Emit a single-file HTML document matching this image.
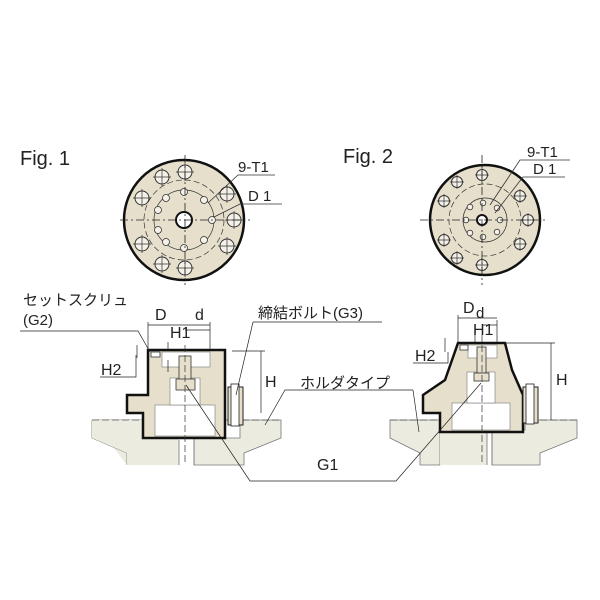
<!DOCTYPE html><html><head><meta charset="utf-8"><style>body{margin:0;background:#fff}svg{display:block}text{font-family:"Liberation Sans","Noto Sans CJK JP",sans-serif;fill:#222}</style></head><body>
<svg width="600" height="600" viewBox="0 0 600 600" xmlns="http://www.w3.org/2000/svg">
<defs><g id="bh"><circle r="7" fill="#f4f1e8" stroke="#333" stroke-width="1"/><path d="M-9 0H9M0 -9V9" stroke="#333" stroke-width="0.7"/></g>
<g id="bh2"><circle r="5.5" fill="#f4f1e8" stroke="#333" stroke-width="1"/><path d="M-7 0H7M0 -7V7" stroke="#333" stroke-width="0.7"/></g>
<g id="sh"><circle r="3.5" fill="#f4f1e8" stroke="#333" stroke-width="0.8"/></g>
<g id="sh2"><circle r="2.8" fill="#f4f1e8" stroke="#333" stroke-width="0.8"/></g></defs>
<text x="20" y="165" font-size="20">Fig. 1</text>
<text x="343" y="163" font-size="20">Fig. 2</text>
<!-- Fig1 plan -->
<circle cx="184" cy="220" r="60" fill="#e6dfcb" stroke="#111" stroke-width="2.5"/>
<circle cx="184" cy="220" r="40" fill="none" stroke="#333" stroke-width="0.7" stroke-dasharray="6 3"/>
<circle cx="184" cy="220" r="30" fill="none" stroke="#333" stroke-width="0.7"/>
<use href="#bh" x="185" y="172"/><use href="#bh" x="185" y="268"/><use href="#bh" x="234" y="220"/>
<use href="#bh" x="227" y="194"/><use href="#bh" x="227" y="246"/><use href="#bh" x="162" y="177"/><use href="#bh" x="142" y="198"/><use href="#bh" x="142" y="244"/><use href="#bh" x="162" y="264"/>
<use href="#sh" x="184" y="192"/><use href="#sh" x="184" y="248"/><use href="#sh" x="212" y="220"/><use href="#sh" x="166" y="198"/><use href="#sh" x="158" y="210"/><use href="#sh" x="158" y="230"/><use href="#sh" x="166" y="242"/><use href="#sh" x="204" y="200"/><use href="#sh" x="204" y="240"/>
<circle cx="184" cy="220" r="8" fill="#fff" stroke="#111" stroke-width="2"/>
<path d="M120 220H250M185 155V285" stroke="#222" stroke-width="0.8" stroke-dasharray="8 3 2 3"/>
<path d="M208 203L238 175H275M214 217L240 204H282" stroke="#333" stroke-width="0.8" fill="none"/>
<text x="238" y="172" font-size="15">9-T1</text><text x="248" y="201" font-size="15">D 1</text>
<!-- Fig2 plan -->
<circle cx="485" cy="220" r="55" fill="#e6dfcb" stroke="#111" stroke-width="2.5"/>
<circle cx="485" cy="220" r="36" fill="none" stroke="#333" stroke-width="0.7" stroke-dasharray="6 3"/>
<circle cx="485" cy="220" r="22" fill="none" stroke="#333" stroke-width="0.7"/>
<use href="#bh2" x="482" y="175"/><use href="#bh2" x="482" y="265"/><use href="#bh2" x="528" y="220"/><use href="#bh2" x="520" y="196"/><use href="#bh2" x="520" y="244"/><use href="#bh2" x="457" y="182"/><use href="#bh2" x="444" y="201"/><use href="#bh2" x="444" y="240"/><use href="#bh2" x="457" y="258"/>
<use href="#sh2" x="483" y="203"/><use href="#sh2" x="483" y="237"/><use href="#sh2" x="500" y="220"/><use href="#sh2" x="470" y="207"/><use href="#sh2" x="466" y="220"/><use href="#sh2" x="470" y="233"/><use href="#sh2" x="497" y="208"/><use href="#sh2" x="497" y="232"/>
<circle cx="482" cy="220" r="5" fill="#fff" stroke="#111" stroke-width="2"/>
<path d="M420 220H545M482 155V285" stroke="#222" stroke-width="0.8" stroke-dasharray="8 3 2 3"/>
<path d="M490 205L520 160H570M495 213L523 177H565" stroke="#333" stroke-width="0.8" fill="none"/>
<text x="527" y="157" font-size="15">9-T1</text><text x="533" y="174" font-size="15">D 1</text>
<!-- ground plates -->
<g fill="#ecebdf" stroke="#777" stroke-width="0.8">
<path d="M92 420H146V438H127V465M92 420V438L127 453"/>
<path d="M92 420H146V465H127V453L92 438Z" stroke="none"/>
<path d="M146 438H179V465H146Z" stroke="none"/>
<path d="M194 438H240V420H281V438L244 453V465H194Z"/>
<path d="M390 420H440V465H420V453L390 438Z"/>
<path d="M440 430H487V465H440Z" stroke="none"/>
<path d="M492 430H525V420H577V438L540 453V465H492Z"/>
</g>
<path d="M179 440V465M194 440V465M487 432V465M492 432V465" stroke="#777" stroke-width="0.8"/>
<path d="M92 420H281M390 420H577" stroke="#555" stroke-width="0.8" stroke-dasharray="7 3"/>
<!-- Fig1 section -->
<path d="M148 350H225V438H143V413H127V395H148Z" fill="#e6dfcb" stroke="#111" stroke-width="2.5"/>
<rect x="155" y="405" width="60" height="31" fill="#fff" stroke="#777" stroke-width="0.6"/>
<rect x="170" y="378" width="30" height="27" fill="#fff" stroke="#777" stroke-width="0.6"/>
<rect x="162" y="352" width="48" height="15" fill="#fff" stroke="#777" stroke-width="0.6"/>
<rect x="179" y="356" width="12" height="24" fill="#e6dfcb" stroke="#333" stroke-width="0.8"/>
<rect x="176" y="379" width="19" height="11" fill="#e6dfcb" stroke="#333" stroke-width="0.8"/>
<rect x="151" y="352" width="9" height="5" fill="#fff" stroke="#333" stroke-width="0.8"/>
<rect x="228" y="387" width="15" height="38" fill="#e6dfcb" stroke="#222" stroke-width="1"/>
<rect x="231" y="384" width="8" height="42" fill="#fff" stroke="#222" stroke-width="0.8"/>
<path d="M185 345V465" stroke="#333" stroke-width="0.7" stroke-dasharray="7 3"/>
<!-- Fig2 section -->
<path d="M458 343H505L512 370L523 395V432H440V413H423V395L445 380Z" fill="#e6dfcb" stroke="#111" stroke-width="2.5"/>
<rect x="452" y="403" width="58" height="27" fill="#fff" stroke="#777" stroke-width="0.6"/>
<rect x="467" y="372" width="28" height="31" fill="#fff" stroke="#777" stroke-width="0.6"/>
<rect x="468" y="345" width="29" height="13" fill="#fff" stroke="#777" stroke-width="0.6"/>
<rect x="477" y="347" width="9" height="26" fill="#e6dfcb" stroke="#333" stroke-width="0.8"/>
<rect x="474" y="373" width="15" height="8" fill="#e6dfcb" stroke="#333" stroke-width="0.8"/>
<rect x="460" y="345" width="8" height="5" fill="#fff" stroke="#333" stroke-width="0.8"/>
<rect x="523" y="387" width="15" height="36" fill="#e6dfcb" stroke="#222" stroke-width="1"/>
<rect x="526" y="384" width="8" height="40" fill="#fff" stroke="#222" stroke-width="0.8"/>
<path d="M482 335V465" stroke="#333" stroke-width="0.7" stroke-dasharray="7 3"/>
<!-- dims fig1 -->
<g stroke="#222" stroke-width="0.7" fill="none">
<path d="M148 322V350M210 322V350M148 325H210M185 330H210"/>
<path d="M168 342V350M168 360V372M137 345V358"/>
<path d="M20 331H138L150 352M100 377H136V355"/>
<path d="M232 351H265M261 351V413M253 322H382M253 322L236 395"/>
<path d="M413 390H285L265 425M413 390L419 432"/>
<path d="M186 385L250 481H396L481 383"/>
<!-- dims fig2 -->
<path d="M458 315V343M497 320V343M458 318H497M482 325H497M475 330V343"/>
<path d="M445 338V352M413 363H448V352"/>
<path d="M505 343H555M551 343V420"/>
</g>
<text x="23" y="305" font-size="15">セットスクリュ</text>
<text x="23" y="325" font-size="15">(G2)</text>
<text x="155" y="320" font-size="16">D</text><text x="195" y="320" font-size="16">d</text>
<text x="170" y="338" font-size="16">H1</text>
<text x="101" y="375" font-size="16">H2</text>
<text x="258" y="318" font-size="15">締結ボルト(G3)</text>
<text x="265" y="387" font-size="16">H</text>
<text x="300" y="388" font-size="15">ホルダタイプ</text>
<text x="317" y="470" font-size="16">G1</text>
<text x="463" y="313" font-size="16">D</text><text x="476" y="318" font-size="15">d</text>
<text x="473" y="335" font-size="16">H1</text>
<text x="415" y="361" font-size="16">H2</text>
<text x="556" y="385" font-size="16">H</text>
</svg></body></html>
